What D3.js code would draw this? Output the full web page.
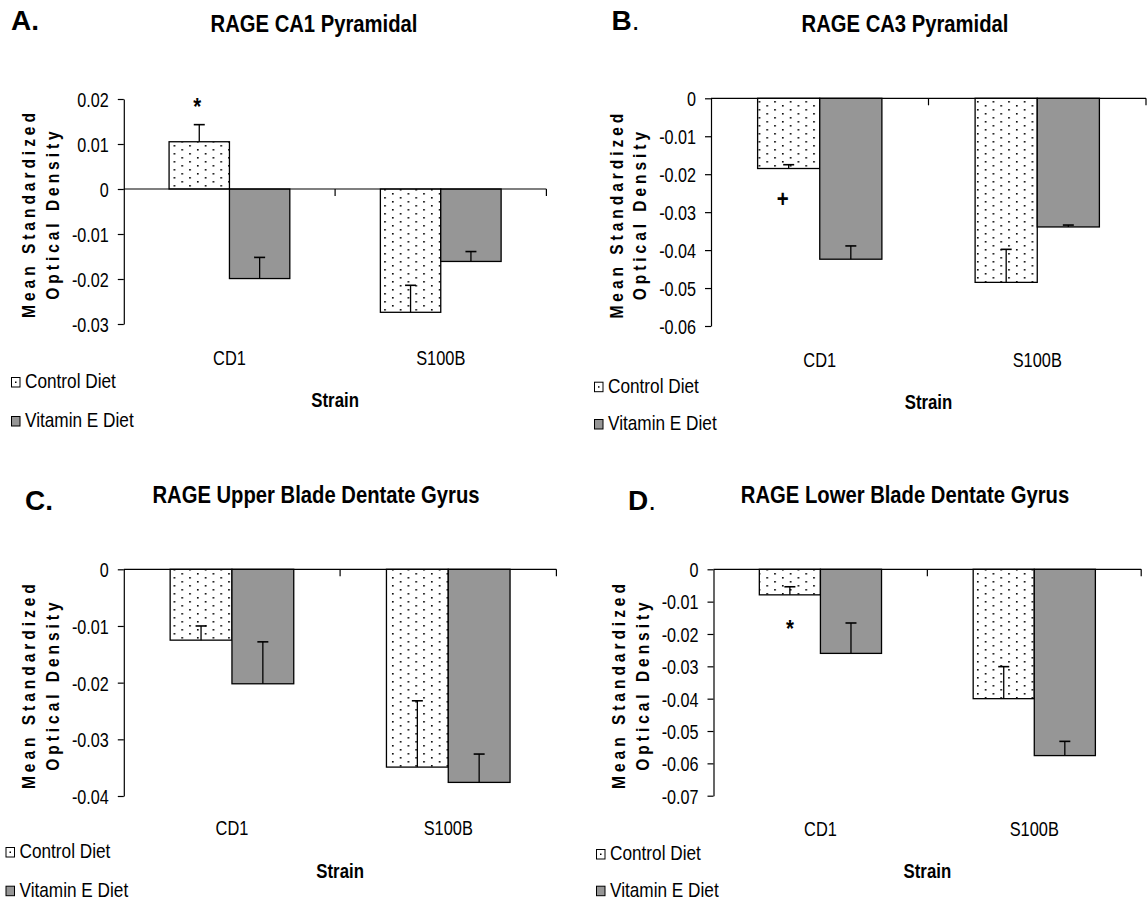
<!DOCTYPE html>
<html>
<head>
<meta charset="utf-8">
<script src="https://cdn.jsdelivr.net/npm/d3@7"></script>
<style>
  html, body { margin: 0; padding: 0; background: #fff; }
  svg { display: block; }
  text { font-family: "Liberation Sans", Arial, sans-serif; fill: #000; }
</style>
</head>
<body>
<svg id="chart" width="1147" height="902"></svg>
<script>
// ---------- DATA ----------
const categories = ["CD1", "S100B"];
const seriesNames = ["Control Diet", "Vitamin E Diet"];
const panelLetters = ["A", "B", "C", "D"];
const panelTitles = [
  "RAGE CA1 Pyramidal",
  "RAGE CA3 Pyramidal",
  "RAGE Upper Blade Dentate Gyrus",
  "RAGE Lower Blade Dentate Gyrus"
];
const axisTitleLines = ["Mean Standardized", "Optical Density"];
const xAxisTitle = "Strain";

// Panel A
const controlA = [0.0105, -0.0274];
const vitaminEA = [-0.0199, -0.0161];
const controlErrA = [0.0038, 0.0060];
const vitaminEErrA = [0.0047, 0.0022];
const ticksA = [0.02, 0.01, 0, -0.01, -0.02, -0.03];
const tickLabelsA = ["0.02", "0.01", "0", "-0.01", "-0.02", "-0.03"];

// Panel B
const controlB = [-0.0185, -0.0485];
const vitaminEB = [-0.0424, -0.0339];
const controlErrB = [0.0010, 0.0087];
const vitaminEErrB = [0.0035, 0.0005];
const ticksB = [0, -0.01, -0.02, -0.03, -0.04, -0.05, -0.06];
const tickLabelsB = ["0", "-0.01", "-0.02", "-0.03", "-0.04", "-0.05", "-0.06"];

// Panel C
const controlC = [-0.0125, -0.0349];
const vitaminEC = [-0.0202, -0.0376];
const controlErrC = [0.0025, 0.0117];
const vitaminEErrC = [0.0074, 0.0050];
const ticksC = [0, -0.01, -0.02, -0.03, -0.04];
const tickLabelsC = ["0", "-0.01", "-0.02", "-0.03", "-0.04"];

// Panel D
const controlD = [-0.0079, -0.0400];
const vitaminED = [-0.0260, -0.0576];
const controlErrD = [0.0025, 0.0099];
const vitaminEErrD = [0.0094, 0.0044];
const ticksD = [0, -0.01, -0.02, -0.03, -0.04, -0.05, -0.06, -0.07];
const tickLabelsD = ["0", "-0.01", "-0.02", "-0.03", "-0.04", "-0.05", "-0.06", "-0.07"];

// Significance marks: [panel index, category, series index, symbol, value at baseline]
const marks = [
  [0, "CD1", 0, "*", 0.0165],
  [1, "CD1", 0, "+", -0.0287],
  [3, "CD1", 0, "*", -0.0209]
];

// ---------- LAYOUT (pixels) ----------
const layouts = [
  { axisX: 123.8, right: 546.4,  top: 99,    bottom: 324,   titleX: 314, titleY: 32,    letterX: 11,    letterY: 30,  letterDotBold: true,  legendX: 11,    legendY: [388, 427],   catY: 365, strainY: 407, markDx: -2 },
  { axisX: 711,   right: 1146,   top: 98.3,  bottom: 326,   titleX: 905, titleY: 32,    letterX: 611.6, letterY: 30,  letterDotBold: false, legendX: 594,   legendY: [392.7, 430], catY: 367, strainY: 409, markDx: -6 },
  { axisX: 123.8, right: 556.4,  top: 569.3, bottom: 796,   titleX: 316, titleY: 502.7, letterX: 25,    letterY: 510, letterDotBold: true,  legendX: 5.5,   legendY: [858, 896.7], catY: 835, strainY: 878, markDx: 0 },
  { axisX: 713.5, right: 1141.2, top: 569.3, bottom: 795.7, titleX: 905, titleY: 502.7, letterX: 628,   letterY: 510, letterDotBold: false, legendX: 596,   legendY: [860, 896.7], catY: 836, strainY: 878, markDx: 0 }
];

const panels = [
  { series: [controlA, vitaminEA], errs: [controlErrA, vitaminEErrA], ticks: ticksA, labels: tickLabelsA },
  { series: [controlB, vitaminEB], errs: [controlErrB, vitaminEErrB], ticks: ticksB, labels: tickLabelsB },
  { series: [controlC, vitaminEC], errs: [controlErrC, vitaminEErrC], ticks: ticksC, labels: tickLabelsC },
  { series: [controlD, vitaminED], errs: [controlErrD, vitaminEErrD], ticks: ticksD, labels: tickLabelsD }
];

const GRAY = "#969696";
const svg = d3.select("#chart");

// narrow text helper (horizontal compression of Liberation Sans)
function ntext(g, x, y, str, size, sx, opts = {}) {
  const t = g.append("text")
    .attr("transform", `translate(${x},${y}) scale(${sx},1)`)
    .attr("font-size", size)
    .attr("text-anchor", opts.anchor || "start")
    .attr("font-weight", opts.bold ? "bold" : "normal")
    .text(str);
  return t;
}

// Dotted pattern
const defs = svg.append("defs");
const pat = defs.append("pattern")
  .attr("id", "dots").attr("patternUnits", "userSpaceOnUse")
  .attr("width", 15.6).attr("height", 8);
pat.append("rect").attr("width", 15.6).attr("height", 8).attr("fill", "#fff");
pat.append("rect").attr("x", 2).attr("y", 1).attr("width", 1.6).attr("height", 1.6).attr("fill", "#000");
pat.append("rect").attr("x", 9.8).attr("y", 5).attr("width", 1.6).attr("height", 1.6).attr("fill", "#000");

const fills = ["url(#dots)", GRAY];

panels.forEach((p, i) => {
  const L = layouts[i];
  const g = svg.append("g");
  const ticks = p.ticks;
  const y = d3.scaleLinear()
    .domain([d3.min(ticks), d3.max(ticks)])
    .range([L.bottom, L.top]);
  const x = d3.scaleBand().domain(categories).range([L.axisX, L.right]).paddingInner(0).paddingOuter(0);
  const groupW = x.bandwidth() / 1.75;
  const x1 = d3.scaleBand().domain(d3.range(seriesNames.length)).range([0, groupW]);
  const groupOff = (x.bandwidth() - groupW) / 2;

  // bars
  p.series.forEach((vals, s) => {
    g.selectAll(null).data(vals).enter().append("rect")
      .attr("x", (d, k) => x(categories[k]) + groupOff + x1(s))
      .attr("y", d => Math.min(y(d), y(0)))
      .attr("width", x1.bandwidth())
      .attr("height", d => Math.abs(y(d) - y(0)))
      .attr("fill", fills[s])
      .attr("stroke", "#000").attr("stroke-width", 1.3);
  });

  // error bars (plus direction)
  p.series.forEach((vals, s) => {
    vals.forEach((v, k) => {
      const cx = x(categories[k]) + groupOff + x1(s) + x1.bandwidth() / 2;
      const top = y(v + p.errs[s][k]);
      g.append("line").attr("x1", cx).attr("x2", cx)
        .attr("y1", y(v)).attr("y2", top)
        .attr("stroke", "#000").attr("stroke-width", 1.3);
      g.append("line").attr("x1", cx - 5.5).attr("x2", cx + 5.5)
        .attr("y1", top).attr("y2", top)
        .attr("stroke", "#000").attr("stroke-width", 1.6);
    });
  });

  // y axis
  const tickSize = 6, tickPad = 9, tsx = 0.77;
  const yAxis = d3.axisLeft(y).tickValues(ticks)
    .tickFormat((d, k) => p.labels[k]).tickSize(tickSize).tickSizeOuter(0).tickPadding(tickPad);
  const ya = g.append("g").attr("transform", `translate(${L.axisX},0)`).call(yAxis);
  ya.attr("font-family", null).attr("font-size", null);
  ya.selectAll("text")
    .attr("font-size", 21)
    .attr("transform", `scale(${tsx},1)`)
    .attr("x", -(tickSize + tickPad) / tsx)
    .attr("dy", "0.35em");
  ya.selectAll("path, line").attr("stroke", "#000").attr("stroke-width", 1.2);

  // x axis at zero
  const y0 = y(0);
  g.append("line").attr("x1", L.axisX).attr("x2", L.right).attr("y1", y0).attr("y2", y0)
    .attr("stroke", "#000").attr("stroke-width", 1.2);
  categories.forEach(c => {
    const xe = x(c) + x.bandwidth();
    g.append("line").attr("x1", xe).attr("x2", xe).attr("y1", y0).attr("y2", y0 + 7)
      .attr("stroke", "#000").attr("stroke-width", 1.2);
  });

  // category labels
  categories.forEach(c => {
    ntext(g, x(c) + x.bandwidth() / 2, L.catY, c, 21, 0.78, { anchor: "middle" });
  });

  // x axis title
  ntext(g, (L.axisX + L.right) / 2, L.strainY, xAxisTitle, 21, 0.8, { anchor: "middle", bold: true });

  // y axis title (two lines)
  const cy = (L.top + L.bottom) / 2;
  [[axisTitleLines[0], -88.5], [axisTitleLines[1], -65]].forEach(([txt, dx]) => {
    g.append("text")
      .attr("transform", `translate(${L.axisX + dx},${cy + 2}) rotate(-90) scale(0.82,1)`)
      .attr("text-anchor", "middle").attr("font-size", 19).attr("font-weight", "bold")
      .attr("letter-spacing", 4.8)
      .text(txt);
  });

  // title
  ntext(g, L.titleX, L.titleY, panelTitles[i], 23, 0.88, { anchor: "middle", bold: true });

  // panel letter
  const lt = g.append("text").attr("x", L.letterX).attr("y", L.letterY)
    .attr("font-size", 28).attr("font-weight", "bold");
  lt.append("tspan").text(panelLetters[i]);
  lt.append("tspan").attr("font-weight", L.letterDotBold ? "bold" : "normal").text(".");

  // legend
  seriesNames.forEach((name, s) => {
    const by = L.legendY[s];
    g.append("rect").attr("x", L.legendX + 0.5).attr("y", by - 10.5)
      .attr("width", 8.5).attr("height", 9.5)
      .attr("fill", s === 0 ? "#fff" : GRAY).attr("stroke", "#000").attr("stroke-width", 1);
    if (s === 0) {
      g.append("rect").attr("x", L.legendX + 4).attr("y", by - 6.5).attr("width", 1.5).attr("height", 1.5).attr("fill", "#000");
    }
    ntext(g, L.legendX + 14, by, name, 21, 0.82);
  });

  // significance marks
  marks.filter(m => m[0] === i).forEach(m => {
    const k = categories.indexOf(m[1]);
    const cx = x(categories[k]) + groupOff + x1(m[2]) + x1.bandwidth() / 2;
    ntext(g, cx + L.markDx, y(m[4]), m[3], 24, 0.85, { anchor: "middle", bold: true });
  });
});
</script>
</body>
</html>
